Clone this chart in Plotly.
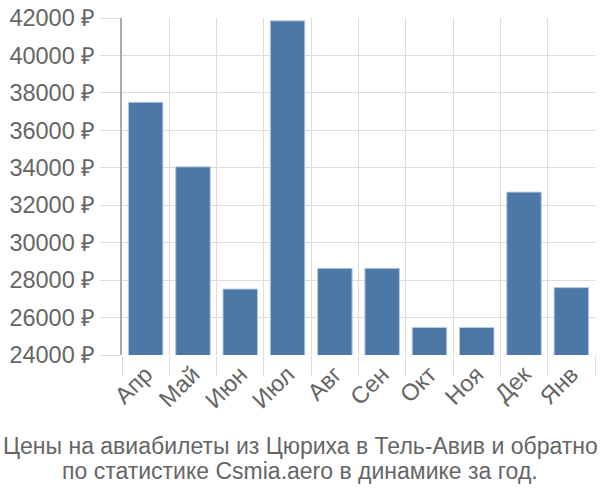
import plotly.graph_objects as go

months = ["Апр", "Май", "Июн", "Июл", "Авг", "Сен", "Окт", "Ноя", "Дек", "Янв"]
prices = [37500, 34050, 27520, 41850, 28630, 28630, 25470, 25470, 32700, 27600]
y_ticks = list(range(24000, 42001, 2000))
y_labels = [f"{v} ₽" for v in y_ticks]
title_lines = ["Цены на авиабилеты из Цюриха в Тель-Авив и обратно",
               "по статистике Csmia.aero в динамике за год."]

font = "Liberation Sans, Arial, sans-serif"
L, R, T, B = 122, 5, 14, 145
W, H = 600, 500
pw, ph = W - L - R, H - T - B

fig = go.Figure(go.Bar(
    x=months, y=prices, base=0,
    marker=dict(color="#4c78a8", line=dict(color="#b9cbe0", width=1)),
))
anns = []
for line, yc in zip(title_lines, [447, 472]):
    anns.append(dict(text=line, xref="paper", yref="paper",
                     x=(300 - L) / pw, xanchor="center",
                     y=(H - B - yc) / ph, yanchor="middle", showarrow=False,
                     font=dict(size=23, color="#666666", family=font)))
fig.update_layout(
    width=W, height=H,
    margin=dict(l=L, r=R, t=T, b=B),
    plot_bgcolor="white", paper_bgcolor="white",
    bargap=0.27,
    showlegend=False,
    font=dict(family=font, color="#666666", size=23.5),
    annotations=anns,
)
fig.update_xaxes(
    tickangle=-45, tickson="boundaries", ticks="outside", ticklen=20,
    tickcolor="#dddddd", showgrid=True, gridcolor="#dddddd", gridwidth=1,
    showline=False, tickfont=dict(size=23.5, color="#666666"),
)
fig.update_yaxes(
    range=[24000, 42000], tickvals=y_ticks, ticktext=y_labels,
    ticks="outside", ticklen=20, tickcolor="#dddddd",
    showgrid=True, gridcolor="#dddddd", gridwidth=1,
    showline=True, linecolor="#aaaaaa", linewidth=2,
    zeroline=False, tickfont=dict(size=23.5, color="#666666"),
)
fig.write_html("out.html")
